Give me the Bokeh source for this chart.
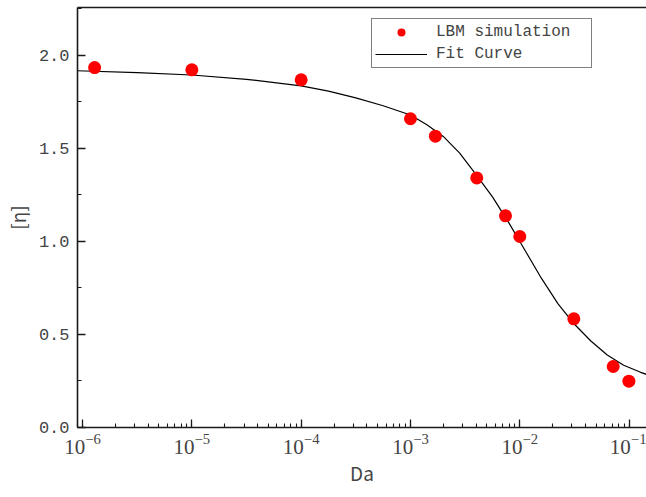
from bokeh.plotting import figure
from bokeh.models import (LogTicker, LinearAxis, SingleIntervalTicker, NumeralTickFormatter,
                          Legend, LegendItem, Range1d, FixedTicker)
from bokeh.embed import file_html
from bokeh.resources import INLINE

# LBM simulation points
da = [1.29e-6, 1.0e-5, 1.0e-4, 1.0e-3, 1.69e-3, 4.04e-3, 7.4e-3, 1.0e-2, 3.12e-2, 7.15e-2, 9.95e-2]
eta = [1.935, 1.923, 1.869, 1.660, 1.566, 1.342, 1.138, 1.027, 0.584, 0.328, 0.249]

# Fit curve (log10 Da, [eta])
fit_log_da = [-6.05, -5.5, -5.0, -4.5, -4.0, -3.75, -3.5, -3.25, -3.0, -2.85, -2.7, -2.55,
              -2.4, -2.25, -2.1, -1.95, -1.8, -1.65, -1.5, -1.35, -1.2, -1.05, -0.9, -0.84]
fit_eta = [1.918, 1.908, 1.895, 1.872, 1.837, 1.808, 1.772, 1.730, 1.680, 1.628, 1.565, 1.475,
           1.360, 1.240, 1.100, 0.950, 0.800, 0.665, 0.555, 0.465, 0.390, 0.335, 0.298, 0.285]

x_label = "Da"
y_label = "[η]"
legend_labels = ["LBM simulation", "Fit Curve"]

fit_da = [10 ** v for v in fit_log_da]

p = figure(width=646, height=497, x_axis_type="log", output_backend="svg", toolbar_location=None,
           x_range=Range1d(10 ** -6.046, 10 ** -0.841), y_range=Range1d(0, 2.258),
           min_border_left=77, min_border_right=0, min_border_top=7, min_border_bottom=70)
p.outline_line_color = None
p.xgrid.visible = False
p.ygrid.visible = False
p.background_fill_color = "white"
p.border_fill_color = "white"

line = p.line(fit_da, fit_eta, line_color="black", line_width=1.2)
pts = p.scatter(da, eta, size=13, fill_color="#ff0000", line_color=None, marker="circle")

tick_font = "Liberation Mono"
axis_color = "#1a1a1a"

xa = p.xaxis[0]
xa.ticker = LogTicker(mantissas=[1], num_minor_ticks=10, desired_num_ticks=6)
xa.axis_label = x_label
xa.axis_label_text_font = "Noto Sans CJK SC"
xa.axis_label_text_font_style = "normal"
xa.axis_label_text_font_size = "19px"
xa.axis_label_standoff = 2
xa.major_label_text_font = "Liberation Serif"
xa.major_label_text_font_size = "21px"
xa.major_label_standoff = 6
xa.major_tick_in = 8
xa.major_tick_out = 0
xa.minor_tick_in = 4
xa.minor_tick_out = 0
xa.axis_line_width = 1.6
xa.axis_line_color = axis_color
xa.major_tick_line_color = axis_color
xa.minor_tick_line_color = axis_color
xa.major_tick_line_width = 1.3
xa.minor_tick_line_width = 1.1

ya = p.yaxis[0]
ya.ticker = SingleIntervalTicker(interval=0.5, num_minor_ticks=2)
ya.formatter = NumeralTickFormatter(format="0.0")
ya.axis_label = y_label
ya.axis_label_text_font = "Noto Sans CJK SC"
ya.axis_label_text_font_style = "normal"
ya.axis_label_text_font_size = "19px"
ya.axis_label_standoff = 5
ya.major_label_text_font = tick_font
ya.major_label_text_font_size = "17px"
ya.major_label_standoff = 8
ya.major_tick_in = 8
ya.major_tick_out = 0
ya.minor_tick_in = 4
ya.minor_tick_out = 0
ya.axis_line_width = 1.6
ya.axis_line_color = axis_color
ya.major_tick_line_color = axis_color
ya.minor_tick_line_color = axis_color
ya.major_tick_line_width = 1.3
ya.minor_tick_line_width = 1.1

top = LinearAxis(ticker=FixedTicker(ticks=[]), axis_line_width=1.6, axis_line_color=axis_color,
                 major_tick_in=0, major_tick_out=0, minor_tick_in=0, minor_tick_out=0,
                 major_label_standoff=0)
p.add_layout(top, "above")

legend = Legend(items=[LegendItem(label=legend_labels[0], renderers=[pts]),
                       LegendItem(label=legend_labels[1], renderers=[line])],
                location=(294, 359), orientation="vertical",
                border_line_color="black", border_line_width=1,
                label_text_font=tick_font, label_text_font_size="16px",
                glyph_width=52, glyph_height=20, label_height=20, spacing=2,
                padding=3, margin=0, label_standoff=9, label_width=152,
                background_fill_alpha=1)
p.add_layout(legend)

open("out.html", "w").write(file_html(p, INLINE))
